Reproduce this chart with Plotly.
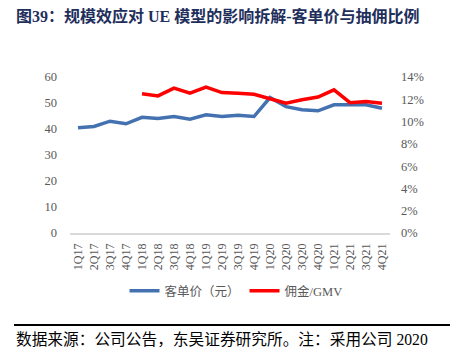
import plotly.graph_objects as go

quarters = ["1Q17","2Q17","3Q17","4Q17","1Q18","2Q18","3Q18","4Q18","1Q19","2Q19",
            "3Q19","4Q19","1Q20","2Q20","3Q20","4Q20","1Q21","2Q21","3Q21","4Q21"]
aov = [40.5, 41.0, 43.0, 42.0, 44.5, 44.0, 44.8, 43.8, 45.5, 44.8,
       45.3, 44.8, 52.1, 48.6, 47.4, 47.0, 49.3, 49.2, 49.3, 48.0]
take_rate = [None, None, None, None, 12.5, 12.3, 13.0, 12.55, 13.1, 12.6,
             12.55, 12.45, 12.05, 11.65, 11.95, 12.2, 12.85, 11.7, 11.8, 11.65]
left_ticks = [0, 10, 20, 30, 40, 50, 60]
right_ticks = [0, 2, 4, 6, 8, 10, 12, 14]

W, H = 456, 359
L, R, T, B = 70, 66, 77, 126
pw, ph = W - L - R, H - T - B

def px(x):
    return (x - L) / pw

def py(y):
    return (H - B - y) / ph

serif = "Liberation Serif, Noto Sans CJK SC"
gray = "#595959"

fig = go.Figure()
fig.add_trace(go.Scatter(x=quarters, y=aov, mode="lines", name="客单价（元）",
                         line=dict(color="#4472B0", width=3.5), yaxis="y"))
fig.add_trace(go.Scatter(x=quarters, y=[v / 100 if v is not None else None for v in take_rate],
                         mode="lines", name="佣金/GMV",
                         line=dict(color="#FF0000", width=3.5), yaxis="y2"))

fig.update_layout(
    width=W, height=H,
    margin=dict(l=L, r=R, t=T, b=B),
    paper_bgcolor="white", plot_bgcolor="white",
    font=dict(family=serif, color=gray, size=12),
    xaxis=dict(type="category", range=[-0.5, 19.5], tickangle=-90,
               showgrid=False, showline=True, linecolor="#D9D9D9", linewidth=1.5,
               ticks="", tickfont=dict(size=12, color=gray), zeroline=False,
               ticklabelstandoff=4),
    yaxis=dict(range=[0, 60], tickvals=left_ticks, showgrid=False, zeroline=False,
               ticks="", ticklabelstandoff=12, tickfont=dict(size=12.5, color=gray)),
    yaxis2=dict(range=[0, 0.14], tickvals=[t / 100 for t in right_ticks],
                ticktext=[f"{t}%" for t in right_ticks], overlaying="y", side="right",
                showgrid=False, zeroline=False, ticks="", ticklabelstandoff=10,
                tickfont=dict(size=12.5, color=gray)),
    legend=dict(orientation="h", x=px(236), xanchor="center", y=py(291), yanchor="middle",
                font=dict(size=12.5, color=gray), itemwidth=30, tracegroupgap=0),
    showlegend=True,
)

fig.add_annotation(text="<b>图39：规模效应对 UE 模型的影响拆解-客单价与抽佣比例</b>",
                   xref="paper", yref="paper", x=px(14), y=py(16), xanchor="left",
                   yanchor="middle", showarrow=False,
                   font=dict(family=serif, size=16, color="#1F2F5C"))
fig.add_annotation(text="数据来源：公司公告，东吴证券研究所。注：采用公司 2020",
                   xref="paper", yref="paper", x=px(14), y=py(339), xanchor="left",
                   yanchor="middle", showarrow=False,
                   font=dict(family=serif, size=15.7, color="#000000"))
fig.add_shape(type="line", xref="paper", yref="paper", x0=px(14), x1=px(450),
              y0=py(325), y1=py(325), line=dict(color="black", width=2))

fig.write_html("out.html", config={"displayModeBar": False},
               post_script="document.body.style.margin='0';document.body.style.padding='0';")
